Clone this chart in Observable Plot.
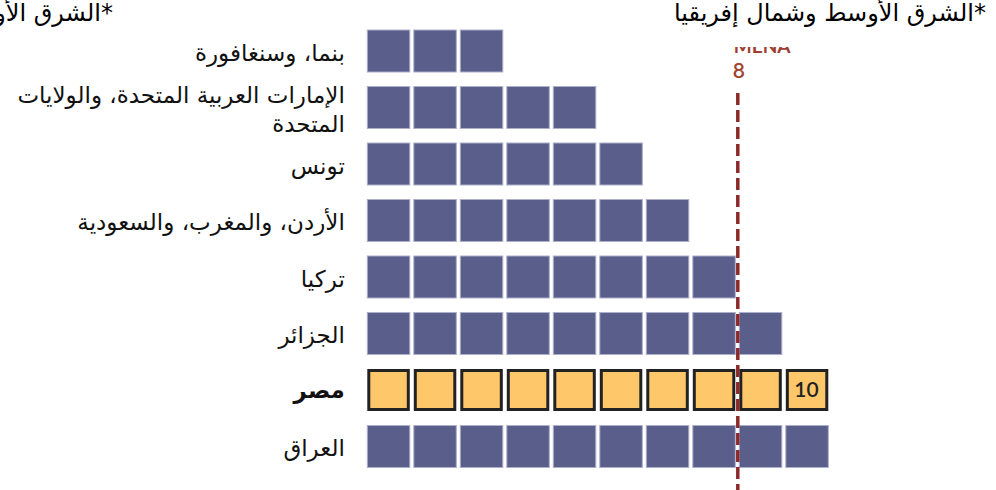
<!DOCTYPE html>
<html>
<head>
<meta charset="utf-8">
<script src="https://cdn.jsdelivr.net/npm/d3@7"></script>
<script src="https://cdn.jsdelivr.net/npm/@observablehq/plot@0.6"></script>
<style>
  html, body { margin: 0; padding: 0; background: #fff; overflow: hidden; }
  #wrap { position: relative; width: 996px; height: 490px; overflow: hidden; }
  .title { position: absolute; top: -1px; font-family: "DejaVu Sans", sans-serif; font-size: 24px; color: #000; white-space: nowrap; direction: rtl; }
  #chart svg { display: block; }
</style>
</head>
<body>
<div id="wrap">
  <div id="chart"></div>
  <div class="title" id="tRight"></div>
  <div class="title" id="tLeft"></div>
</div>
<script>
// ---- data ----
const countries = ["بنما، وسنغافورة", "الإمارات العربية المتحدة، والولايات المتحدة", "تونس", "الأردن، والمغرب، والسعودية", "تركيا", "الجزائر", "مصر", "العراق"];
const labels = ["بنما، وسنغافورة", "الإمارات العربية المتحدة، والولايات\nالمتحدة", "تونس", "الأردن، والمغرب، والسعودية", "تركيا", "الجزائر", "مصر", "العراق"];
const values = [3, 5, 6, 7, 8, 9, 10, 10];
const highlight = "مصر";
const menaValue = 8;
const menaLabel = "MENA";
const titleText = "*الشرق الأوسط وشمال إفريقيا";

// ---- derived tables ----
const rows = countries.map((c, k) => ({country: c, label: labels[k], value: values[k]}));
const cells = rows.flatMap(r => d3.range(r.value).map(i => ({country: r.country, i})));
const normalCells = cells.filter(d => d.country !== highlight);
const hiCells = cells.filter(d => d.country === highlight);
const hiRow = rows.filter(r => r.country === highlight);

const chart = Plot.plot({
  width: 996,
  height: 490,
  marginTop: 47,
  marginLeft: 0,
  marginRight: 0,
  marginBottom: 0,
  style: {fontFamily: "DejaVu Sans, sans-serif", background: "#fff"},
  x: {domain: [0, 10], range: [365.3, 830.3], axis: null},
  y: {type: "band", domain: countries, range: [22.75, 474.75], paddingInner: 0.2566, paddingOuter: 0.1283, round: false, axis: null},
  marks: [
    Plot.barX(normalCells, {x1: d => d.i, x2: d => d.i + 1, y: "country", insetLeft: 2, insetRight: 2, fill: "#5a5e8b", stroke: "#aeb0cb", strokeWidth: 1}),
    Plot.barX(hiCells, {x1: d => d.i, x2: d => d.i + 1, y: "country", insetLeft: 3.5, insetRight: 3.5, insetTop: 1.5, insetBottom: 1.5, fill: "#fec86a", stroke: "#222", strokeWidth: 3}),
    Plot.text(hiRow, {x: d => d.value - 0.5, y: "country", text: d => String(d.value), fontSize: 21, fontWeight: 600, fill: "#222", fontFamily: "Lato, sans-serif", dx: -1}),
    Plot.ruleX([menaValue], {insetTop: 46, stroke: "#8b2a2a", strokeWidth: 3.5, strokeDasharray: "12,5"}),
    Plot.text([menaValue], {x: d => d, frameAnchor: "top", text: () => menaLabel, textAnchor: "start", lineAnchor: "bottom", dx: -4, dy: 5, fontSize: 19, fontWeight: "bold", fill: "#9e3d30", fontFamily: "Lato, sans-serif", ariaLabel: () => "mena-label"}),
    Plot.text([menaValue], {x: d => d, frameAnchor: "top", text: d => String(d), textAnchor: "start", lineAnchor: "top", dx: -5, dy: 16, fontSize: 21, fontWeight: 600, fill: "#a0452f", fontFamily: "Lato, sans-serif"}),
    Plot.text(rows.filter(r => r.country !== highlight), {x: () => 0, y: "country", text: "label", textAnchor: "end", dx: -21, fontSize: 23, lineHeight: 1.27, fill: "#111"}),
    Plot.text(hiRow, {x: () => 0, y: "country", text: "label", textAnchor: "end", dx: -21, fontSize: 23, fontWeight: "bold", fill: "#111"})
  ]
});
document.getElementById("chart").appendChild(chart);

// clip the MENA label at the top of the plotting frame (as in the reference)
const svgEl = chart.tagName.toLowerCase() === "svg" ? chart : chart.querySelector("svg");
const ns = "http://www.w3.org/2000/svg";
const defs = document.createElementNS(ns, "defs");
const cp = document.createElementNS(ns, "clipPath");
cp.setAttribute("id", "menaClip");
cp.setAttribute("clipPathUnits", "userSpaceOnUse");
const cr = document.createElementNS(ns, "rect");
cr.setAttribute("x", 0); cr.setAttribute("y", 47); cr.setAttribute("width", 996); cr.setAttribute("height", 443);
cp.appendChild(cr); defs.appendChild(cp); svgEl.insertBefore(defs, svgEl.firstChild);
let menaNode = svgEl.querySelector("[aria-label='mena-label']");
if (!menaNode) {
  menaNode = Array.from(svgEl.querySelectorAll("text")).find(t => t.textContent === menaLabel);
}
if (menaNode) {
  // climb to the top-level mark group so the clip is in the SVG's own coordinates
  let grp = menaNode;
  while (grp.parentNode && grp.parentNode !== svgEl) grp = grp.parentNode;
  const wrapper = document.createElementNS(ns, "g");
  wrapper.setAttribute("clip-path", "url(#menaClip)");
  svgEl.insertBefore(wrapper, grp);
  wrapper.appendChild(grp);
}

const tR = document.getElementById("tRight");
tR.textContent = titleText;
tR.style.right = (996 - 986) + "px";
const tL = document.getElementById("tLeft");
tL.textContent = titleText;
tL.style.right = (996 - 113) + "px";
</script>
</body>
</html>
